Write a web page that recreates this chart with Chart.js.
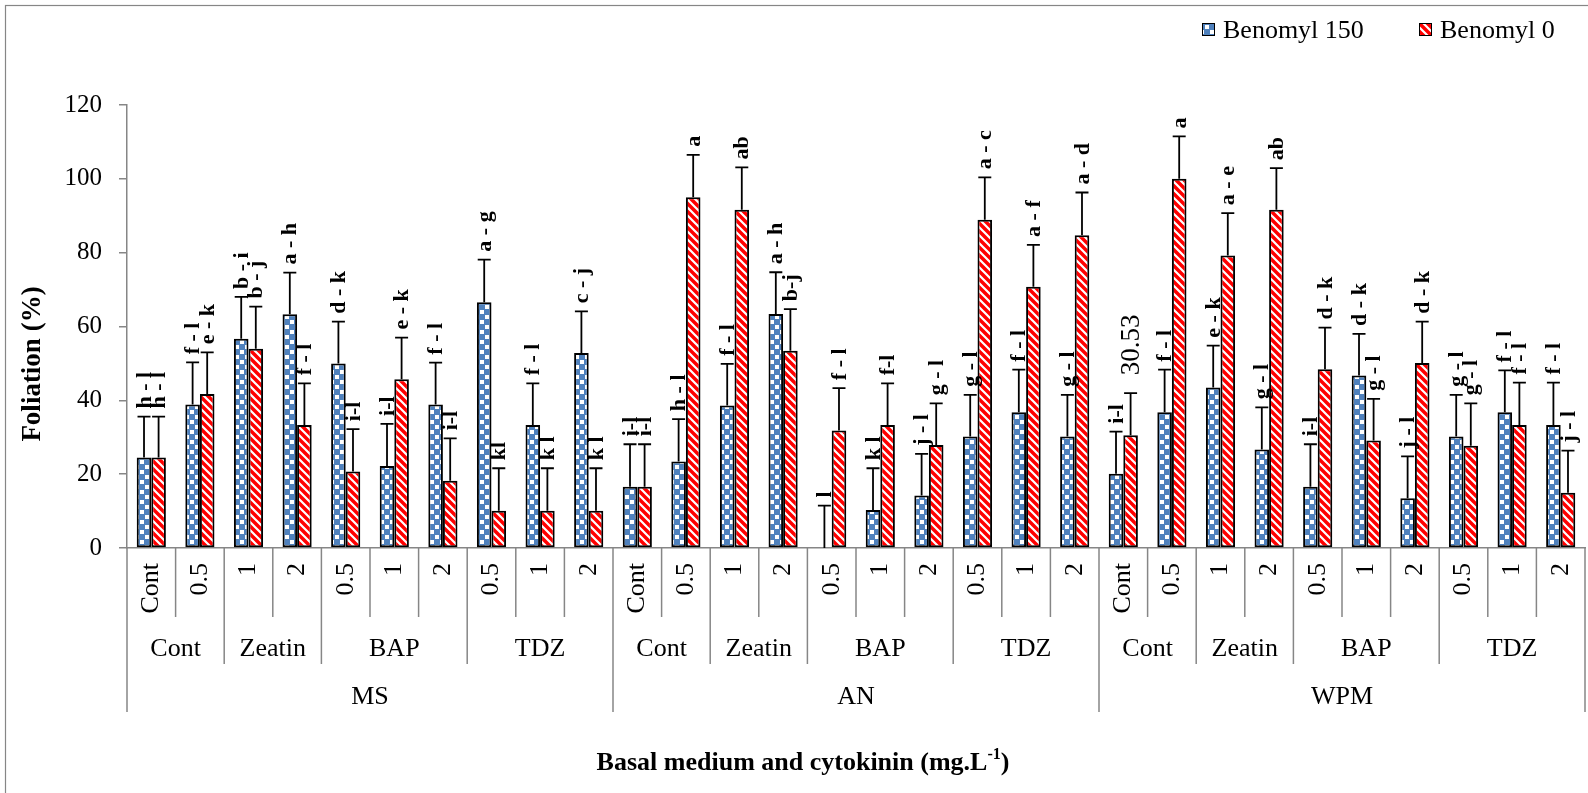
<!DOCTYPE html>
<html>
<head>
<meta charset="utf-8">
<script src="https://cdn.jsdelivr.net/npm/chart.js@4.4.1/dist/chart.umd.min.js"></script>
<style>
  html, body { margin: 0; padding: 0; background: #fff; }
  #wrap { width: 1588px; height: 793px; position: relative; }
</style>
</head>
<body>
<div id="wrap"><canvas id="c"></canvas></div>
<script>
// ---- data ----
const concentrations = ['Cont','0.5','1','2','0.5','1','2','0.5','1','2',
                        'Cont','0.5','1','2','0.5','1','2','0.5','1','2',
                        'Cont','0.5','1','2','0.5','1','2','0.5','1','2'];
const cytokinins = ['Cont','Cont','Zeatin','Zeatin','BAP','BAP','BAP','TDZ','TDZ','TDZ',
                    'Cont','Cont','Zeatin','Zeatin','BAP','BAP','BAP','TDZ','TDZ','TDZ',
                    'Cont','Cont','Zeatin','Zeatin','BAP','BAP','BAP','TDZ','TDZ','TDZ'];
const media = ['MS','MS','MS','MS','MS','MS','MS','MS','MS','MS',
               'AN','AN','AN','AN','AN','AN','AN','AN','AN','AN',
               'WPM','WPM','WPM','WPM','WPM','WPM','WPM','WPM','WPM','WPM'];

const benomyl150 = [24.5, 38.9, 56.7, 63.3, 50.0, 22.2, 38.9, 66.6, 33.3, 52.8,
                    16.6, 23.4, 38.6, 63.4, 0, 10.3, 14.2, 30.2, 36.8, 30.2,
                    20.1, 36.8, 43.5, 26.7, 16.6, 46.7, 13.5, 30.2, 36.8, 33.3];
const benomyl0   = [24.5, 41.7, 54.0, 33.3, 20.7, 45.7, 18.2, 10.1, 10.1, 10.1,
                    16.6, 95.0, 91.6, 53.4, 31.8, 33.3, 27.9, 88.9, 70.8, 84.7,
                    30.53, 100.0, 79.2, 91.6, 48.4, 29.1, 50.1, 27.7, 33.3, 15.0];
const err150 = [11.1, 11.4, 11.3, 11.3, 11.3, 11.4, 11.3, 11.5, 11.3, 11.3,
                11.5, 11.5, 11.3, 11.3, 11.5, 11.3, 11.3, 11.3, 11.5, 11.3,
                11.4, 11.5, 11.3, 11.4, 11.5, 11.3, 11.3, 11.3, 11.3, 11.5];
const err0   = [11.1, 11.3, 11.4, 11.3, 11.5, 11.3, 11.5, 11.5, 11.5, 11.5,
                11.5, 11.5, 11.5, 11.3, 11.5, 11.3, 11.3, 11.5, 11.3, 11.6,
                11.4, 11.5, 11.5, 11.3, 11.3, 11.3, 11.2, 11.5, 11.5, 11.4];
const letters150 = ['h - l','f - l','b - i','a - h','d - k','i-l','f - l','a - g','f - l','c - j',
                    'i-l','h - l','f - l','a - h','l','k l','j - l','g - l','f - l','g - l',
                    'i-l','f - l','e - k','g - l','i-l','d - k','j - l','g - l','f - l','f - l'];
const letters0   = ['h - l','e - k','b - j','f - l','i-l','e - k','i-l','kl','k l','k l',
                    'i-l','a','ab','b-j','f - l','f-l','g - l','a - c','a - f','a - d',
                    '30.53','a','a - e','ab','d - k','g - l','d - k','g - l','f - l','j - l'];
const yTicks = [0, 20, 40, 60, 80, 100, 120];
const seriesNames = ['Benomyl 150', 'Benomyl 0'];
const yTitle = 'Foliation (%)';
const xTitle = 'Basal medium and cytokinin (mg.L';
const xTitleSup = '-1';

// ---- styling ----
const SERIF = "'Liberation Serif','Times New Roman',serif";
const BLUE = '#4F81BD', RED = '#FF0000', GRAY = '#868686';

function bluePattern() {
  const c = document.createElement('canvas'); c.width = 10; c.height = 10;
  const g = c.getContext('2d');
  g.fillStyle = BLUE; g.fillRect(0, 0, 10, 10);
  g.fillStyle = '#fff'; g.fillRect(0, 0, 4, 4); g.fillRect(5, 5, 4, 4);
  return g.createPattern(c, 'repeat');
}
function redPattern() {
  const c = document.createElement('canvas'); c.width = 8; c.height = 8;
  const g = c.getContext('2d');
  g.fillStyle = RED; g.fillRect(0, 0, 8, 8);
  g.strokeStyle = '#fff'; g.lineWidth = 2.2;
  g.beginPath();
  g.moveTo(-2, -2); g.lineTo(10, 10);
  g.moveTo(-6, 2); g.lineTo(6, 14);
  g.moveTo(2, -6); g.lineTo(14, 6);
  g.stroke();
  return g.createPattern(c, 'repeat');
}
const patBlue = bluePattern(), patRed = redPattern();
const errs = [err150, err0];
const letters = [letters150, letters0];

const overlay = {
  id: 'overlay',
  afterDatasetsDraw(chart) {
    const ctx = chart.ctx, y = chart.scales.y;
    chart.data.datasets.forEach((ds, di) => {
      const meta = chart.getDatasetMeta(di);
      meta.data.forEach((bar, i) => {
        const v = ds.data[i], e = errs[di][i];
        const yb = y.getPixelForValue(v), yt = y.getPixelForValue(v + e);
        ctx.save();
        ctx.strokeStyle = '#000'; ctx.lineWidth = 1.8;
        ctx.beginPath();
        ctx.moveTo(bar.x, yb); ctx.lineTo(bar.x, yt);
        ctx.moveTo(bar.x - 6.5, yt); ctx.lineTo(bar.x + 6.5, yt);
        ctx.stroke();
        const txt = letters[di][i];
        const numeric = /^\d/.test(txt);
        ctx.translate(bar.x + 1, yt - (numeric ? 18 : 8));
        ctx.rotate(-Math.PI / 2);
        ctx.fillStyle = '#000';
        ctx.font = numeric ? '27px ' + SERIF : 'bold 22px ' + SERIF;
        ctx.textAlign = 'left'; ctx.textBaseline = 'middle';
        ctx.fillText(txt, 0, 0);
        ctx.restore();
      });
    });
  },
  afterDraw(chart) {
    const ctx = chart.ctx, x = chart.scales.x, area = chart.chartArea;
    const n = concentrations.length;
    const cw = x.getPixelForValue(1) - x.getPixelForValue(0);
    const edge = i => x.getPixelForValue(0) - cw / 2 + i * cw;
    const base = area.bottom;
    const y1 = base + 69, y2 = base + 116, y3 = base + 164;
    ctx.save();
    // separators
    ctx.strokeStyle = GRAY; ctx.lineWidth = 1.5;
    for (let i = 0; i <= n; i++) {
      let bottom = y1;
      if (i === 0 || i === n || media[i] !== media[i - 1]) bottom = y3;
      else if (cytokinins[i] !== cytokinins[i - 1]) bottom = y2;
      ctx.beginPath(); ctx.moveTo(edge(i), base); ctx.lineTo(edge(i), bottom); ctx.stroke();
    }
    ctx.fillStyle = '#000';
    // level 1 (rotated)
    ctx.font = '26px ' + SERIF;
    for (let i = 0; i < n; i++) {
      ctx.save();
      ctx.translate(x.getPixelForValue(i), base + 15);
      ctx.rotate(-Math.PI / 2);
      ctx.textAlign = 'right'; ctx.textBaseline = 'middle';
      ctx.fillText(concentrations[i], 0, 0);
      ctx.restore();
    }
    // level 2 and 3
    const groups = (arr, key) => {
      const out = []; let s = 0;
      for (let i = 1; i <= n; i++) {
        if (i === n || key(i) !== key(i - 1)) { out.push([s, i, arr[s]]); s = i; }
      }
      return out;
    };
    ctx.textAlign = 'center'; ctx.textBaseline = 'middle';
    groups(cytokinins, i => media[i] + cytokinins[i]).forEach(([s, e, t]) => {
      ctx.fillText(t, (edge(s) + edge(e)) / 2, base + 101);
    });
    groups(media, i => media[i]).forEach(([s, e, t]) => {
      ctx.fillText(t, (edge(s) + edge(e)) / 2, base + 149);
    });
    // x title
    ctx.font = 'bold 26px ' + SERIF;
    const supFont = 'bold 16px ' + SERIF;
    const w1 = ctx.measureText(xTitle).width;
    ctx.font = supFont; const w2 = ctx.measureText(xTitleSup).width;
    ctx.font = 'bold 26px ' + SERIF; const w3 = ctx.measureText(')').width;
    let sx = 803 - (w1 + w2 + w3) / 2;
    ctx.textAlign = 'left'; ctx.textBaseline = 'alphabetic';
    ctx.fillText(xTitle, sx, 770);
    ctx.font = supFont; ctx.fillText(xTitleSup, sx + w1, 759);
    ctx.font = 'bold 26px ' + SERIF; ctx.fillText(')', sx + w1 + w2, 770);
    // y title
    ctx.save();
    ctx.translate(33, 364); ctx.rotate(-Math.PI / 2);
    ctx.font = 'bold 27px ' + SERIF; ctx.textAlign = 'center'; ctx.textBaseline = 'middle';
    ctx.fillText(yTitle, 0, 0);
    ctx.restore();
    // legend
    const leg = [[1202, patBlue], [1419, patRed]];
    ctx.font = '26px ' + SERIF; ctx.textBaseline = 'middle'; ctx.textAlign = 'left';
    leg.forEach(([lx, pat], k) => {
      ctx.fillStyle = pat; ctx.fillRect(lx, 23, 13, 13);
      ctx.strokeStyle = '#000'; ctx.lineWidth = 1; ctx.strokeRect(lx + 0.5, 23.5, 12, 12);
      ctx.fillStyle = '#000'; ctx.fillText(seriesNames[k], lx + 21, 31);
    });
    // outer border
    ctx.strokeStyle = GRAY; ctx.lineWidth = 1.2;
    ctx.strokeRect(5.5, 5.5, 1600, 800);
    ctx.restore();
  }
};

new Chart(document.getElementById('c'), {
  type: 'bar',
  data: {
    labels: concentrations.map((c, i) => media[i] + ' ' + cytokinins[i] + ' ' + c),
    datasets: [
      { label: seriesNames[0], data: benomyl150, backgroundColor: patBlue, borderColor: '#000', borderWidth: 2, borderSkipped: false,
        categoryPercentage: 0.6, barPercentage: 1.0 },
      { label: seriesNames[1], data: benomyl0, backgroundColor: patRed, borderColor: '#000', borderWidth: 2, borderSkipped: false,
        categoryPercentage: 0.6, barPercentage: 1.0 }
    ]
  },
  options: {
    responsive: true, maintainAspectRatio: false, animation: false,
    layout: { padding: { top: 105, right: 3, left: 0, bottom: 0 } },
    plugins: { legend: { display: false }, tooltip: { enabled: false } },
    scales: {
      x: {
        grid: { display: false },
        ticks: { display: false },
        border: { display: true, color: GRAY, width: 1.5 },
        afterFit(s) { s.height = 245; }
      },
      y: {
        min: 0, max: 120,
        afterBuildTicks(s) { s.ticks = yTicks.map(v => ({ value: v })); },
        grid: { display: true, drawOnChartArea: false, drawTicks: true, tickLength: 8, color: GRAY, lineWidth: 1.5 },
        border: { display: true, color: GRAY, width: 1.5 },
        ticks: { color: '#000', font: { family: SERIF, size: 25 }, padding: 17 },
        afterFit(s) { s.width = 127; }
      }
    }
  },
  plugins: [overlay]
});
</script>
</body>
</html>
